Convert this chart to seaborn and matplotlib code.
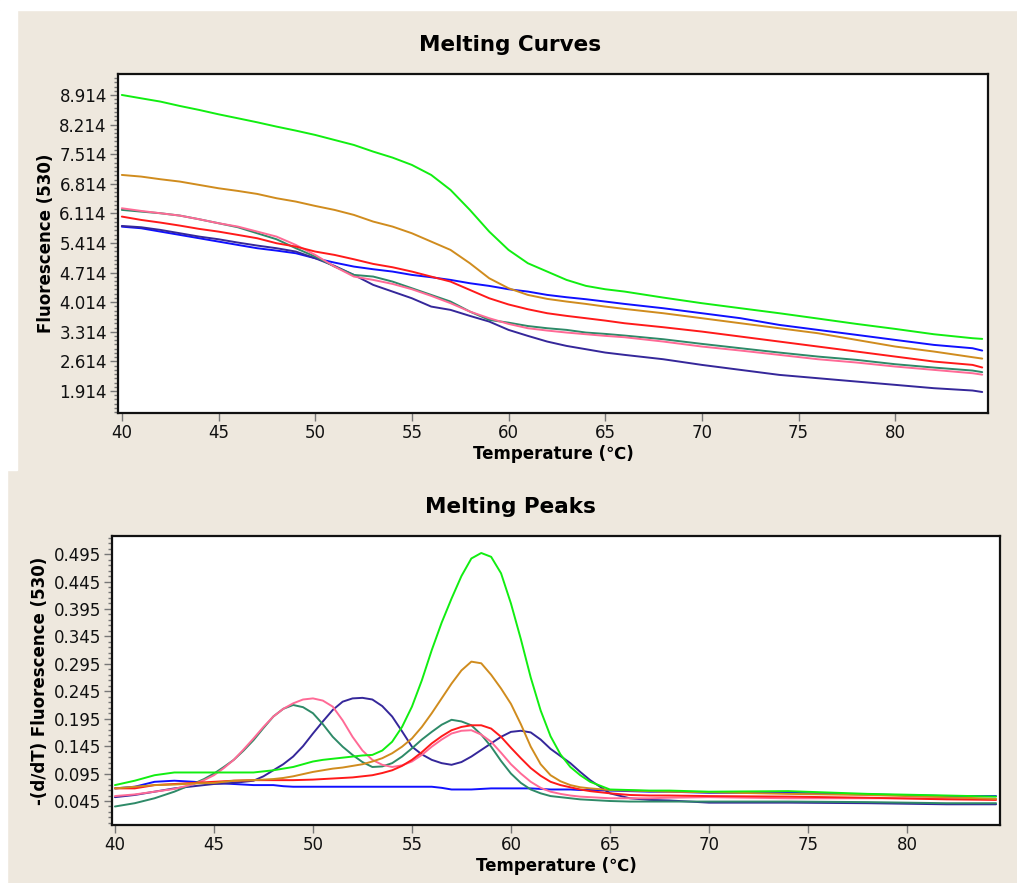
import matplotlib
matplotlib.use('Agg')
import matplotlib.pyplot as plt
from matplotlib.ticker import FixedLocator, FormatStrFormatter, AutoMinorLocator
from matplotlib.patches import Rectangle
import seaborn as sns
import pandas as pd

sns.set_theme(style='white')
plt.rcParams['font.family'] = ['DejaVu Sans', 'Noto Sans CJK SC']
plt.rcParams['text.color'] = 'black'
plt.rcParams['axes.labelcolor'] = 'black'

# ---- Melting curves (fluorescence vs temperature) ----
temp_curve = [40, 41, 42, 43, 44, 45, 46, 47, 48, 49, 50, 51, 52, 53, 54, 55, 56, 57, 58, 59,
              60, 61, 62, 63, 64, 65, 66, 68, 70, 72, 74, 76, 78, 80, 82, 84, 84.5]
curve_green = [8.914, 8.835, 8.757, 8.654, 8.56, 8.457, 8.363, 8.268, 8.166, 8.071, 7.969, 7.85,
               7.732, 7.575, 7.433, 7.26, 7.023, 6.669, 6.196, 5.684,
               5.25, 4.935, 4.738, 4.541, 4.40, 4.32, 4.265, 4.123, 3.99, 3.871, 3.753, 3.627,
               3.50, 3.382, 3.256, 3.162, 3.146]
curve_orange = [7.023, 6.984, 6.921, 6.866, 6.787, 6.708, 6.645, 6.574, 6.472, 6.393, 6.29, 6.196,
                6.078, 5.92, 5.802, 5.644, 5.447, 5.25, 4.935, 4.58,
                4.344, 4.186, 4.092, 4.029, 3.973, 3.91, 3.855, 3.753, 3.635, 3.516, 3.398, 3.28,
                3.122, 2.965, 2.847, 2.713, 2.68]
curve_blue = [5.80, 5.762, 5.683, 5.605, 5.526, 5.447, 5.368, 5.29, 5.234, 5.171, 5.053, 4.95,
              4.856, 4.793, 4.738, 4.659, 4.604, 4.541, 4.462, 4.399,
              4.32, 4.265, 4.186, 4.131, 4.084, 4.029, 3.973, 3.871, 3.753, 3.635, 3.477, 3.359,
              3.241, 3.122, 3.004, 2.925, 2.87]
curve_red = [6.038, 5.959, 5.896, 5.825, 5.747, 5.683, 5.605, 5.526, 5.408, 5.329, 5.211, 5.132,
             5.029, 4.919, 4.84, 4.738, 4.619, 4.501, 4.304, 4.107,
             3.96, 3.847, 3.753, 3.69, 3.635, 3.579, 3.516, 3.422, 3.319, 3.201, 3.083, 2.965,
             2.847, 2.728, 2.61, 2.531, 2.47]
curve_teal = [6.196, 6.156, 6.117, 6.062, 5.975, 5.881, 5.786, 5.644, 5.502, 5.29, 5.092, 4.856,
              4.659, 4.62, 4.501, 4.344, 4.186, 4.029, 3.792, 3.595,
              3.53, 3.45, 3.398, 3.359, 3.296, 3.264, 3.225, 3.138, 3.028, 2.925, 2.823, 2.728,
              2.65, 2.547, 2.468, 2.397, 2.36]
curve_pink = [6.235, 6.172, 6.117, 6.062, 5.975, 5.881, 5.802, 5.684, 5.565, 5.368, 5.132, 4.856,
              4.62, 4.541, 4.446, 4.32, 4.163, 3.99, 3.792, 3.635,
              3.50, 3.398, 3.343, 3.296, 3.256, 3.217, 3.185, 3.083, 2.965, 2.87, 2.768, 2.665,
              2.587, 2.492, 2.413, 2.334, 2.30]
curve_navy = [5.817, 5.786, 5.723, 5.644, 5.565, 5.502, 5.424, 5.353, 5.29, 5.211, 5.053, 4.872,
              4.659, 4.423, 4.265, 4.107, 3.91, 3.832, 3.69, 3.556,
              3.359, 3.217, 3.083, 2.98, 2.902, 2.823, 2.768, 2.665, 2.531, 2.413, 2.295, 2.216,
              2.137, 2.059, 1.98, 1.925, 1.89]

# ---- Melting peaks (-dF/dT vs temperature) ----
temp_peak = [40, 41, 42, 43,
             44, 44.5, 45, 45.5, 46, 46.5, 47, 47.5, 48, 48.5, 49, 49.5, 50, 50.5, 51, 51.5,
             52, 52.5, 53, 53.5, 54, 54.5, 55, 55.5, 56, 56.5, 57, 57.5, 58, 58.5, 59, 59.5,
             60, 60.5, 61, 61.5, 62, 62.5, 63, 63.5, 64,
             65, 66, 67, 68, 70, 74, 78, 82, 84.5]
peak_green = [0.074, 0.082, 0.092, 0.097,
              0.097, 0.097, 0.097, 0.097, 0.097, 0.097, 0.097, 0.099, 0.101, 0.104, 0.107, 0.112,
              0.117, 0.12, 0.122, 0.124, 0.126, 0.128, 0.129, 0.137, 0.153, 0.18, 0.217, 0.265,
              0.32, 0.37, 0.414, 0.455, 0.487, 0.497, 0.49, 0.46, 0.405, 0.34, 0.27, 0.21,
              0.163, 0.13, 0.107, 0.092, 0.08,
              0.066, 0.065, 0.064, 0.064, 0.062, 0.063, 0.058, 0.055, 0.053]
peak_orange = [0.068, 0.071, 0.074, 0.075,
               0.077, 0.0775, 0.078, 0.08, 0.082, 0.0825, 0.083, 0.084, 0.085, 0.087, 0.09, 0.094,
               0.098, 0.101, 0.104, 0.106, 0.109, 0.112, 0.117, 0.123, 0.132, 0.144, 0.159, 0.18,
               0.205, 0.232, 0.259, 0.283, 0.299, 0.296, 0.275, 0.25, 0.222, 0.185, 0.144, 0.112,
               0.092, 0.081, 0.074, 0.07, 0.068,
               0.065, 0.064, 0.063, 0.062, 0.061, 0.058, 0.056, 0.052, 0.049]
peak_blue = [0.068, 0.071, 0.08, 0.082,
             0.08, 0.078, 0.077, 0.077, 0.076, 0.075, 0.074, 0.074, 0.074, 0.072, 0.071, 0.071,
             0.071, 0.071, 0.071, 0.071, 0.071, 0.071, 0.071, 0.071, 0.071, 0.071, 0.071, 0.071,
             0.071, 0.069, 0.066, 0.066, 0.066, 0.067, 0.068, 0.068, 0.068, 0.068, 0.068, 0.067,
             0.066, 0.066, 0.066, 0.065, 0.065,
             0.064, 0.063, 0.062, 0.062, 0.060, 0.060, 0.057, 0.054, 0.054]
peak_red = [0.068, 0.068, 0.074, 0.076,
            0.078, 0.079, 0.08, 0.081, 0.082, 0.0825, 0.083, 0.083, 0.083, 0.083, 0.083, 0.0835,
            0.084, 0.085, 0.086, 0.087, 0.088, 0.09, 0.092, 0.096, 0.101, 0.109, 0.12, 0.134,
            0.15, 0.163, 0.174, 0.18, 0.183, 0.183, 0.177, 0.162, 0.142, 0.123, 0.105, 0.091,
            0.08, 0.074, 0.07, 0.066, 0.063,
            0.059, 0.056, 0.055, 0.055, 0.054, 0.053, 0.051, 0.048, 0.047]
peak_teal = [0.035, 0.041, 0.05, 0.062,
             0.077, 0.085, 0.095, 0.107, 0.12, 0.137, 0.156, 0.178, 0.199, 0.213, 0.22, 0.216,
             0.205, 0.185, 0.162, 0.144, 0.129, 0.116, 0.107, 0.108, 0.114, 0.126, 0.141, 0.157,
             0.171, 0.184, 0.193, 0.19, 0.183, 0.166, 0.144, 0.118, 0.095, 0.078, 0.066, 0.059,
             0.054, 0.052, 0.05, 0.048, 0.047,
             0.045, 0.044, 0.044, 0.044, 0.044, 0.044, 0.043, 0.041, 0.041]
peak_pink = [0.054, 0.057, 0.062, 0.067,
             0.076, 0.083, 0.092, 0.105, 0.12, 0.139, 0.159, 0.18, 0.199, 0.213, 0.223, 0.23,
             0.232, 0.228, 0.217, 0.192, 0.162, 0.137, 0.12, 0.111, 0.107, 0.11, 0.117, 0.129,
             0.144, 0.157, 0.168, 0.173, 0.174, 0.166, 0.153, 0.133, 0.112, 0.095, 0.08, 0.069,
             0.062, 0.058, 0.055, 0.053, 0.052,
             0.05, 0.05, 0.05, 0.051, 0.052, 0.05, 0.05, 0.05, 0.048]
peak_navy = [0.052, 0.056, 0.062, 0.068,
             0.072, 0.074, 0.076, 0.077, 0.078, 0.08, 0.082, 0.09, 0.101, 0.112, 0.126, 0.145,
             0.168, 0.19, 0.211, 0.226, 0.232, 0.233, 0.23, 0.218, 0.199, 0.172, 0.144, 0.13,
             0.12, 0.114, 0.111, 0.116, 0.126, 0.138, 0.15, 0.162, 0.171, 0.173, 0.17, 0.157,
             0.14, 0.127, 0.114, 0.098, 0.083,
             0.059, 0.05, 0.047, 0.046, 0.042, 0.042, 0.041, 0.039, 0.039]

samples = ['blue', 'navy', 'teal', 'pink', 'red', 'orange', 'green']
palette = {'green': '#11ee11', 'orange': '#d08c1e', 'blue': '#1010ff', 'red': '#ff1a1a',
           'teal': '#2e8a68', 'pink': '#ff6a96', 'navy': '#35279a'}

curves = {'green': curve_green, 'orange': curve_orange, 'blue': curve_blue, 'red': curve_red,
          'teal': curve_teal, 'pink': curve_pink, 'navy': curve_navy}
peaks = {'green': peak_green, 'orange': peak_orange, 'blue': peak_blue, 'red': peak_red,
         'teal': peak_teal, 'pink': peak_pink, 'navy': peak_navy}

df_curve = pd.concat([pd.DataFrame({'T': temp_curve, 'value': curves[s], 'sample': s}) for s in samples])
df_peak = pd.concat([pd.DataFrame({'T': temp_peak, 'value': peaks[s], 'sample': s}) for s in samples])

bg = '#eee8de'
fig = plt.figure(figsize=(10.17, 8.83), dpi=100, facecolor=bg)
# white strips at the screenshot edges
fig.patches.append(Rectangle((0, 1 - 10 / 883), 1, 10 / 883, transform=fig.transFigure, color='white', zorder=0))
fig.patches.append(Rectangle((0, 1 - 470 / 883), 17 / 1017, 460 / 883, transform=fig.transFigure, color='white', zorder=0))
fig.patches.append(Rectangle((0, 0), 7 / 1017, 413 / 883, transform=fig.transFigure, color='white', zorder=0))

ax1 = fig.add_axes([0.116, 0.5323, 0.8555, 0.3839])
ax2 = fig.add_axes([0.1101, 0.0657, 0.8732, 0.3273])

sns.lineplot(data=df_curve, x='T', y='value', hue='sample', hue_order=samples, palette=palette,
             estimator=None, sort=False, legend=False, linewidth=1.4, ax=ax1)
sns.lineplot(data=df_peak, x='T', y='value', hue='sample', hue_order=samples, palette=palette,
             estimator=None, sort=False, legend=False, linewidth=1.4, ax=ax2)

xticks = [40, 45, 50, 55, 60, 65, 70, 75, 80]
curve_ticks = [1.914, 2.614, 3.314, 4.014, 4.714, 5.414, 6.114, 6.814, 7.514, 8.214, 8.914]
peak_ticks = [0.045, 0.095, 0.145, 0.195, 0.245, 0.295, 0.345, 0.395, 0.445, 0.495]

ax1.set_xlim(39.8, 84.8)
ax1.set_ylim(1.394, 9.41)
ax2.set_xlim(39.85, 84.7)
ax2.set_ylim(0.0013, 0.528)

for ax, yt, minor, ylab in [(ax1, curve_ticks, 7, 'Fluorescence (530)'),
                            (ax2, peak_ticks, 5, '-(d/dT) Fluorescence (530)')]:
    ax.set_facecolor('white')
    ax.xaxis.set_major_locator(FixedLocator(xticks))
    ax.yaxis.set_major_locator(FixedLocator(yt))
    ax.yaxis.set_major_formatter(FormatStrFormatter('%.3f'))
    ax.yaxis.set_minor_locator(AutoMinorLocator(minor))
    ax.tick_params(axis='both', which='major', direction='out', length=6, width=1,
                   color='#777777', labelsize=12, labelcolor='#111111', pad=2,
                   left=True, bottom=True)
    ax.tick_params(axis='y', which='minor', direction='out', length=3, width=1,
                   color='#777777', left=True)
    for sp in ax.spines.values():
        sp.set_visible(True)
        sp.set_color('#111111')
        sp.set_linewidth(1.6)
    ax.set_xlabel('Temperature (\u2103)', fontsize=12, fontweight='bold', labelpad=2)
    ax.set_ylabel(ylab, fontsize=12, fontweight='bold', labelpad=3)

fig.text(0.5015, 1 - 45 / 883, 'Melting Curves', ha='center', va='center', fontsize=15.5, fontweight='bold')
fig.text(0.5015, 1 - 507 / 883, 'Melting Peaks', ha='center', va='center', fontsize=15.5, fontweight='bold')

fig.savefig('out.png', dpi=100, facecolor=bg)
